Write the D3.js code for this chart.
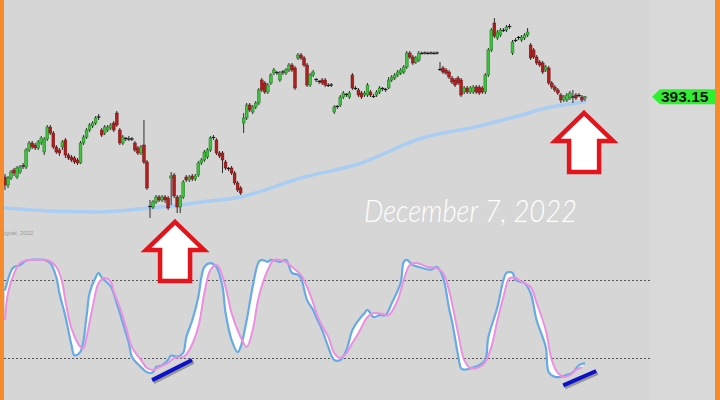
<!DOCTYPE html>
<html>
<head>
<meta charset="utf-8">
<script src="https://cdn.jsdelivr.net/npm/d3@7"></script>
<style>
  html, body { margin: 0; padding: 0; background: #d6d6d6; }
  svg { display: block; }
</style>
</head>
<body>
<div id="chart"></div>
<script>
// Hourly candles
const opens = [
  377.1, 375.5, 376.9, 378.5, 377.1, 378.1, 379.1, 379.1, 382.5, 383.9,
  383.5, 382.9, 383.9, 382.1, 384.7, 387.1, 385.9, 383.1, 382.5, 383.1,
  384.5, 381.5, 381.1, 380.9, 380.5, 379.9, 383.9, 385.1, 386.5, 387.3,
  387.9, 388.9, 386.5, 385.9, 386.5, 386.9, 387.9, 389.9, 386.5, 383.9,
  384.7, 384.9, 384.6, 383.9, 382.9, 381.9, 383.5, 380.1, 371.1, 371.1,
  372.1, 373.1, 372.5, 373.1, 372.9, 376.9, 377.5, 373.1, 371.1, 373.1,
  377.1, 376.5, 377.3, 376.7, 377.5, 379.9, 380.5, 381.1, 382.5, 384.9,
  384.5, 381.9, 381.9, 380.1, 378.7, 378.9, 377.9, 375.9, 374.9, 387.9,
  388.9, 391.5, 390.1, 391.1, 391.9, 396.5, 395.9, 394.1, 395.9, 397.9,
  397.9, 396.5, 397.9, 397.9, 398.5, 399.5, 398.9, 400.9, 401.5, 400.9,
  399.5, 395.5, 397.5, 396.5, 396.1, 396.5, 396.5, 395.5, 395.4, 390.1,
  391.1, 391.5, 393.1, 393.5, 393.1, 397.5, 394.9, 394.5, 393.9, 393.5,
  393.5, 394.1, 393.3, 393.5, 394.1, 394.7, 394.5, 394.9, 396.5, 396.9,
  397.5, 397.9, 398.1, 399.1, 401.9, 401.1, 400.1, 400.5, 401.9, 401.8,
  401.9, 401.8, 401.9, 401.8, 398.7, 398.9, 398.5, 398.1, 396.9, 396.5,
  396.9, 396.5, 394.1, 394.9, 394.1, 394.1, 395.1, 395.1, 394.9, 394.1,
  397.5, 402.5, 407.9, 404.9, 405.5, 406.5, 406.5, 407.1, 401.9, 404.5,
  404.9, 404.5, 404.9, 405.5, 403.5, 402.5, 401.1, 400.1, 399.9, 398.5,
  398.9, 395.9, 395.1, 394.5, 393.5, 392.5, 392.5, 392.9, 393.3, 393.5,
  393.5, 393.1, 392.9
];
const highs = [
  377.7, 377.3, 378.5, 378.9, 379.3, 379.5, 379.9, 382.9, 384.3, 384.3,
  383.9, 384.5, 385.3, 385.1, 387.5, 387.5, 386.3, 383.5, 382.9, 384.5,
  384.9, 381.9, 381.5, 381.3, 380.9, 384.3, 385.5, 386.9, 387.9, 388.3,
  389.3, 389.7, 386.9, 387.5, 387.5, 387.9, 388.3, 390.3, 386.9, 385.5,
  385.1, 385.3, 385.1, 384.3, 383.3, 383.5, 388.5, 380.5, 372.5, 372.5,
  373.5, 373.5, 373.5, 373.5, 373.3, 378.1, 377.9, 373.5, 373.5, 376.5,
  377.5, 377.5, 377.7, 377.7, 380.3, 380.9, 382.5, 382.9, 385.3, 385.5,
  384.9, 382.3, 382.3, 380.5, 379.1, 379.3, 378.3, 376.3, 375.3, 389.9,
  391.9, 391.9, 391.5, 392.3, 394.9, 396.9, 396.3, 395.9, 397.9, 398.9,
  398.3, 398.3, 398.5, 398.9, 399.9, 399.9, 399.3, 401.9, 401.9, 401.3,
  399.9, 397.9, 398.5, 396.9, 396.5, 396.9, 396.9, 395.9, 395.9, 391.5,
  391.5, 393.5, 394.3, 393.9, 394.3, 397.9, 395.3, 394.9, 394.3, 394.3,
  395.9, 394.5, 393.7, 394.5, 395.3, 395.1, 394.9, 397.1, 397.5, 397.9,
  398.5, 398.9, 399.5, 402.3, 402.3, 401.5, 401.3, 402.3, 402.2, 402.2,
  402.2, 402.2, 402.2, 402.2, 400.1, 399.3, 398.9, 398.5, 397.3, 396.9,
  397.3, 396.9, 395.3, 395.3, 395.3, 395.5, 395.5, 395.5, 395.3, 397.9,
  402.9, 406.9, 408.9, 406.5, 406.9, 406.9, 407.5, 407.7, 404.5, 404.9,
  405.3, 405.5, 405.9, 406.9, 403.9, 402.9, 401.5, 400.5, 400.3, 399.5,
  399.3, 396.3, 395.5, 394.9, 393.9, 393.5, 393.9, 394.3, 394.5, 393.9,
  393.9, 393.5, 393.3
];
const lows = [
  374.5, 374.9, 376.5, 377.3, 376.7, 377.7, 378.7, 378.7, 382.1, 382.7,
  382.5, 382.5, 383.5, 381.5, 384.3, 385.5, 382.7, 381.7, 381.3, 382.5,
  380.9, 380.5, 380.1, 379.7, 379.5, 379.7, 383.5, 384.7, 386.1, 386.9,
  387.5, 388.5, 385.1, 385.5, 386.1, 386.5, 386.1, 387.1, 383.5, 383.5,
  384.3, 384.3, 384.3, 382.1, 381.5, 381.5, 379.7, 374.5, 368.9, 370.7,
  371.7, 372.1, 372.1, 371.9, 370.5, 371.5, 372.9, 369.9, 369.9, 372.7,
  376.1, 376.1, 376.3, 376.3, 377.1, 379.5, 380.1, 380.7, 382.1, 384.5,
  381.5, 380.9, 377.9, 378.5, 378.3, 377.5, 375.5, 374.1, 373.5, 385.9,
  388.5, 390.1, 389.7, 390.7, 391.5, 394.1, 393.7, 393.7, 395.5, 397.5,
  397.5, 396.1, 397.5, 397.5, 398.1, 398.1, 394.5, 400.5, 400.5, 399.1,
  395.1, 395.1, 397.1, 396.1, 395.7, 395.5, 395.1, 395.1, 395.1, 389.7,
  390.7, 391.1, 392.7, 393.1, 392.7, 394.5, 394.5, 393.1, 392.7, 393.1,
  393.1, 393.1, 392.9, 393.1, 393.7, 394.3, 394.1, 394.7, 396.1, 396.5,
  397.1, 397.5, 397.7, 398.7, 400.7, 399.5, 399.7, 400.1, 401.6, 401.6,
  401.6, 401.6, 401.6, 401.6, 398.3, 397.7, 397.5, 396.7, 395.7, 395.1,
  395.5, 393.1, 393.7, 393.7, 393.7, 393.7, 393.7, 393.5, 393.7, 393.7,
  397.1, 402.1, 404.9, 404.5, 405.1, 406.1, 406.1, 406.7, 401.5, 404.1,
  404.5, 404.1, 404.5, 405.1, 400.5, 400.7, 399.5, 399.1, 397.7, 398.1,
  395.5, 394.7, 394.1, 393.5, 391.9, 392.1, 392.1, 392.5, 391.9, 392.5,
  393.1, 392.1, 392.3
];
const closes = [
  375.5, 376.9, 378.1, 377.9, 378.9, 379.1, 379.3, 382.5, 383.9, 383.1,
  382.9, 384.1, 384.9, 384.7, 387.1, 385.9, 383.1, 382.1, 381.9, 384.1,
  381.5, 380.9, 380.5, 380.1, 379.9, 383.9, 385.1, 386.5, 387.5, 387.9,
  388.9, 389.1, 385.5, 387.1, 387.1, 387.5, 386.5, 387.5, 383.9, 385.1,
  384.8, 384.7, 384.7, 382.5, 381.9, 383.1, 380.1, 374.9, 371.2, 372.1,
  373.1, 372.5, 373.1, 372.5, 370.9, 377.3, 373.3, 371.1, 373.1, 376.1,
  376.5, 377.1, 376.7, 377.3, 379.9, 380.5, 382.1, 382.5, 384.9, 385.0,
  381.9, 381.3, 380.5, 378.9, 378.8, 377.9, 375.9, 374.5, 373.9, 388.9,
  391.5, 390.5, 391.1, 391.9, 394.5, 394.5, 394.1, 395.5, 397.5, 398.5,
  398.0, 397.9, 398.1, 398.5, 399.5, 398.5, 394.9, 401.5, 400.9, 399.5,
  395.5, 397.5, 398.1, 396.6, 396.2, 395.9, 395.5, 395.4, 395.5, 391.1,
  391.2, 393.1, 393.9, 393.6, 393.9, 394.9, 394.8, 393.5, 393.1, 393.9,
  395.5, 393.5, 393.2, 394.1, 394.9, 394.8, 394.6, 396.5, 397.1, 397.5,
  398.1, 398.5, 399.1, 401.9, 401.1, 399.9, 400.9, 401.9, 401.8, 401.9,
  401.8, 401.9, 401.8, 401.9, 398.6, 398.1, 397.9, 397.1, 396.1, 395.5,
  395.9, 393.5, 394.9, 394.1, 394.9, 395.1, 394.1, 393.9, 394.1, 397.5,
  402.5, 406.5, 405.3, 406.1, 406.5, 406.4, 407.1, 407.2, 404.1, 404.4,
  405.0, 405.1, 405.5, 406.1, 400.9, 401.1, 399.9, 399.5, 398.1, 399.1,
  395.9, 395.1, 394.5, 393.9, 392.5, 393.1, 393.5, 393.9, 393.1, 392.9,
  393.4, 392.5, 393.15
];

// moving average, sampled at a few bars
const maBars = [0, 15, 31, 48, 58, 65, 78, 98, 118, 137, 157, 171, 179, 187, 192];
const maValues = [370.9, 370.3, 370.1, 370.9, 371.5, 372.1, 373.1, 376.9, 379.9, 384.7, 387.3, 389.5, 390.9, 391.7, 392.2];

// stochastic %K (blue) and %D (pink)
const kBars = [0, 2, 3, 5, 7, 9, 13, 15, 17, 18, 20, 22, 23, 25, 27, 28, 30, 31, 32, 35, 37, 39, 41, 42, 45, 47, 49, 50, 52, 54, 55, 57, 59, 60, 62, 64, 65, 66, 68, 70, 72, 73, 75, 77, 78, 80, 82, 84, 85, 87, 88, 91, 93, 95, 97, 98, 100, 102, 103, 105, 107, 109, 111, 113, 115, 117, 119, 120, 122, 124, 126, 128, 131, 132, 133, 135, 137, 141, 143, 145, 147, 148, 150, 151, 152, 154, 157, 159, 160, 163, 165, 166, 168, 169, 172, 174, 176, 179, 180, 182, 184, 186, 188, 190, 192];
const kValues = [72, 87, 90, 91.5, 95, 95.5, 95.5, 93, 82, 70, 52, 30, 22, 25, 52, 70, 82, 85.5, 82, 75, 62, 47, 31.5, 21, 13, 9, 9, 13, 14.5, 18.5, 22, 21, 24, 36, 49, 67, 82, 90, 93, 90, 75, 55, 34, 24.5, 28.5, 49, 75, 94, 95.5, 94, 95.5, 94, 95.5, 85.5, 84, 81.5, 64.5, 57, 51.5, 41.5, 28.5, 18.5, 18.5, 26, 41.5, 49, 54.5, 57, 51.5, 53, 53, 62, 78, 94, 95.5, 91.5, 90, 88, 90, 82, 58, 48, 22, 12, 11, 12, 14.5, 18.5, 36, 59, 80, 85.5, 85.5, 80, 77.5, 70, 49, 28.5, 9, 5.5, 5.5, 7, 9, 14.5, 16];
const dBars = [0, 1, 3, 5, 8, 12, 14, 17, 19, 20, 22, 25, 26, 27, 29, 31, 33, 35, 36, 38, 40, 42, 45, 47, 49, 51, 54, 56, 59, 61, 64, 66, 68, 70, 71, 73, 75, 78, 80, 82, 84, 87, 89, 91, 93, 95, 98, 100, 102, 104, 107, 109, 111, 113, 115, 117, 120, 122, 125, 127, 130, 132, 134, 136, 140, 143, 145, 147, 150, 152, 154, 157, 159, 161, 163, 165, 167, 169, 171, 174, 176, 179, 181, 183, 185, 187, 189, 191];
const dValues = [49, 70, 85, 93, 95.4, 95.4, 95.4, 90, 77.7, 64, 43, 28.5, 27.7, 36, 59, 77.7, 81.5, 78.5, 71, 59, 44, 28.5, 18.5, 12.3, 10.8, 13, 16.2, 20, 20.8, 26.2, 44, 70, 87.7, 91.5, 89, 74.6, 54.6, 36.2, 28.5, 41.5, 67, 87.7, 95.4, 95.4, 93.8, 90, 83.8, 74.6, 62.3, 49.2, 36.2, 23.8, 20, 23.8, 31.5, 39, 51.5, 54.6, 53.8, 53, 64.6, 80, 91.5, 93, 90, 89, 85.4, 72, 39, 18.5, 12.3, 13, 17, 28.5, 49, 67, 81.5, 81.5, 78.5, 74.6, 62.3, 41.5, 18.5, 8.5, 5.4, 6.9, 10.8, 13];
const stochLevels = [80, 20];

// annotations: divergence lines (bar, %K) and up arrows (bar, price)
const trendStartBars = [48.7, 184.8];
const trendEndBars = [61.9, 195.7];
const trendStartValues = [3, -1];
const trendEndValues = [18.5, 10];
const arrowBars = [56.3, 191.7];
const arrowPrices = [368.1, 389.9];

const lastPrice = 393.15;
const dateLabel = "December 7, 2022";

const W = 720, H = 400;

const svg = d3.select("#chart")
    .append("svg")
    .attr("width", W)
    .attr("height", H)
    .style("font-family", "'Liberation Sans', Arial, sans-serif");

// background + price-axis strip
svg.append("rect").attr("width", W).attr("height", H).attr("fill", "#d6d6d6");
svg.append("rect").attr("x", 649).attr("width", 67).attr("height", H).attr("fill", "#d9d9d9");

// scales
const x = d3.scaleLinear().domain([0, closes.length - 1]).range([5, 585]);
const y = d3.scaleLinear().domain([366.5, 412.5]).range([230, 0]);
const ys = d3.scaleLinear().domain([0, 100]).range([384, 254]);

// moving average behind the candles
const maPts = maBars.map((b, i) => [x(b), y(maValues[i])]);
svg.append("path")
    .attr("d", d3.line().curve(d3.curveMonotoneX)(maPts))
    .attr("fill", "none")
    .attr("stroke", "#a9cdf3")
    .attr("stroke-width", 3.5)
    .attr("stroke-linecap", "round");

// candles
const bars = closes.map((c, i) => ({ i, o: opens[i], h: highs[i], l: lows[i], c }));
const candles = svg.append("g");

candles.selectAll(".wick")
    .data(bars)
    .enter()
    .append("line")
    .attr("x1", d => x(d.i))
    .attr("x2", d => x(d.i))
    .attr("y1", d => y(d.h))
    .attr("y2", d => y(d.l))
    .attr("stroke", "#2e2e2e")
    .attr("stroke-width", 1);

const isDoji = d => Math.abs(d.o - d.c) < 0.25;

candles.selectAll(".body")
    .data(bars.filter(d => !isDoji(d)))
    .enter()
    .append("rect")
    .attr("x", d => x(d.i) - 1.4)
    .attr("width", 2.8)
    .attr("y", d => y(Math.max(d.o, d.c)))
    .attr("height", d => Math.max(1.2, Math.abs(y(d.o) - y(d.c))))
    .attr("fill", d => d.c > d.o ? "#3cc43c" : "#b01e1e")
    .attr("stroke", d => d.c > d.o ? "#1e6e1e" : "#6e1010")
    .attr("stroke-width", 0.5);

candles.selectAll(".doji")
    .data(bars.filter(isDoji))
    .enter()
    .append("line")
    .attr("x1", d => x(d.i) - 1.8)
    .attr("x2", d => x(d.i) + 1.8)
    .attr("y1", d => y(d.c))
    .attr("y2", d => y(d.c))
    .attr("stroke", "#1a1a1a")
    .attr("stroke-width", 1.2);

// watermark
svg.append("text")
    .attr("x", 4)
    .attr("y", 235)
    .style("font-size", "6px")
    .style("fill", "#9a9a9a")
    .text("ignal, 2022");

// date label
svg.append("text")
    .attr("x", 364)
    .attr("y", 222)
    .attr("textLength", 213)
    .attr("lengthAdjust", "spacingAndGlyphs")
    .style("font-family", "Lato, 'Open Sans', sans-serif")
    .style("font-style", "italic")
    .style("font-weight", 300)
    .style("font-size", "31px")
    .style("fill", "#ffffff")
    .text(dateLabel);

// stochastic levels
svg.selectAll(".level")
    .data(stochLevels)
    .enter()
    .append("line")
    .attr("x1", 4)
    .attr("x2", 652)
    .attr("y1", d => ys(d) + 0.5)
    .attr("y2", d => ys(d) + 0.5)
    .attr("stroke", "#555")
    .attr("stroke-width", 1)
    .attr("stroke-dasharray", "2,2");

// stochastic lines with white band between them
const kPts = kBars.map((b, i) => [x(b), ys(kValues[i])]);
const dPts = dBars.map((b, i) => [x(b), ys(dValues[i])]);
const curve = d3.line().curve(d3.curveCatmullRom.alpha(0.5));
const bandPath = curve(kPts) + curve(dPts.slice().reverse()).replace(/^M/, "L") + "Z";

svg.append("path")
    .attr("d", bandPath)
    .attr("fill", "#ffffff")
    .attr("stroke", "none");

svg.append("path")
    .attr("d", curve(kPts))
    .attr("fill", "none")
    .attr("stroke", "#66aae6")
    .attr("stroke-width", 2.2);

svg.append("path")
    .attr("d", curve(dPts))
    .attr("fill", "none")
    .attr("stroke", "#ec8fe0")
    .attr("stroke-width", 2);

// divergence lines
trendStartBars.forEach((b, i) => {
    const x1 = x(b), y1 = ys(trendStartValues[i]);
    const x2 = x(trendEndBars[i]), y2 = ys(trendEndValues[i]);
    svg.append("line")
        .attr("x1", x1 + 1.5).attr("y1", y1 + 2)
        .attr("x2", x2 + 1.5).attr("y2", y2 + 2)
        .attr("stroke", "#7a7a7a")
        .attr("stroke-opacity", 0.7)
        .attr("stroke-width", 4);
    svg.append("line")
        .attr("x1", x1).attr("y1", y1)
        .attr("x2", x2).attr("y2", y2)
        .attr("stroke", "#0c12c8")
        .attr("stroke-width", 4);
});

// red up arrows
const arrowPath = (tx, ty) => {
    const hw = 29, sw = 15, hh = 28, len = 59;
    return `M${tx},${ty} L${tx + hw},${ty + hh} L${tx + sw},${ty + hh} L${tx + sw},${ty + len} ` +
        `L${tx - sw},${ty + len} L${tx - sw},${ty + hh} L${tx - hw},${ty + hh} Z`;
};
arrowBars.forEach((b, i) => {
    svg.append("path")
        .attr("d", arrowPath(x(b), y(arrowPrices[i])))
        .attr("fill", "#ffffff")
        .attr("stroke", "#e3141c")
        .attr("stroke-width", 4.5)
        .attr("stroke-linejoin", "miter");
});

// last price tag
const py = y(lastPrice);
svg.append("path")
    .attr("d", `M652,${py} L660,${py - 7.5} L716,${py - 7.5} L716,${py + 7.5} L660,${py + 7.5} Z`)
    .attr("fill", "#2ef02e");
svg.append("text")
    .attr("x", 661)
    .attr("y", py + 5.5)
    .style("font-size", "15.5px")
    .style("font-weight", "bold")
    .style("fill", "#111")
    .text(lastPrice.toFixed(2));

// orange frame sides
svg.append("rect").attr("x", 0).attr("width", 4).attr("height", H).attr("fill", "#f58b2d");
svg.append("rect").attr("x", 715).attr("width", 5).attr("height", H).attr("fill", "#f58b2d");
</script>
</body>
</html>
